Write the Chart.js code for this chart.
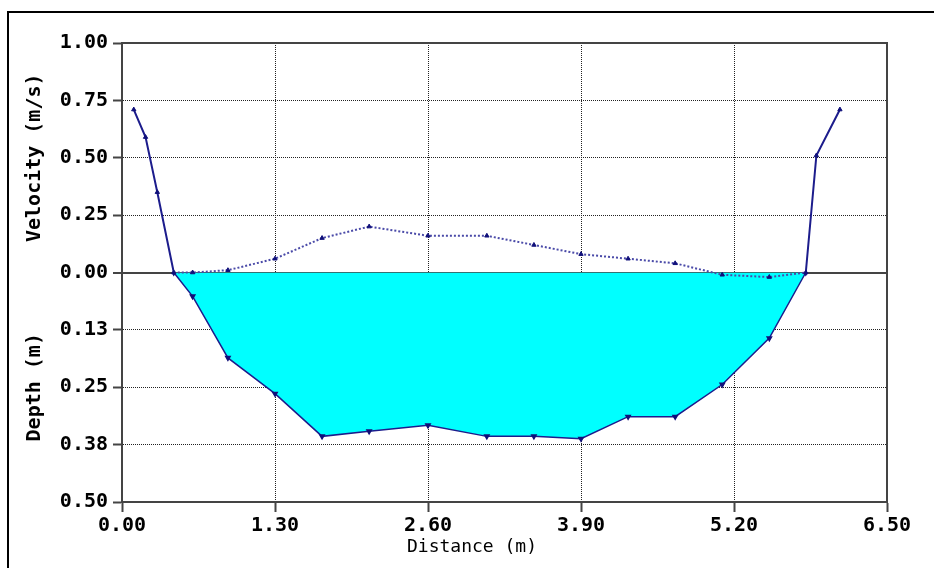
<!DOCTYPE html>
<html>
<head>
<meta charset="utf-8">
<script src="https://cdn.jsdelivr.net/npm/chart.js@4"></script>
<style>
  html, body { margin: 0; padding: 0; background: #fff; overflow: hidden; }
  #wrap { position: relative; width: 934px; height: 568px; }
  #frame {
    position: absolute; left: 7px; top: 11px; width: 960px; height: 600px;
    border-left: 2px solid #000; border-top: 2px solid #000; pointer-events: none;
  }
  canvas { position: absolute; left: 0; top: 0; }
</style>
</head>
<body>
<div id="wrap">
  <canvas id="section" width="934" height="568"></canvas>
  <div id="frame"></div>
</div>
<script>
// stations across the channel (m)
const velocityStations = [0.10, 0.20, 0.30, 0.44, 0.60, 0.90, 1.30, 1.70, 2.10, 2.60, 3.10, 3.50, 3.90, 4.30, 4.70, 5.10, 5.50, 5.81, 5.90, 6.10];
const velocity = [0.71, 0.59, 0.35, 0.00, 0.00, 0.01, 0.06, 0.15, 0.20, 0.16, 0.16, 0.12, 0.08, 0.06, 0.04, -0.01, -0.02, 0.00, 0.51, 0.71];

const depthStations = [0.44, 0.60, 0.90, 1.30, 1.70, 2.10, 2.60, 3.10, 3.50, 3.90, 4.30, 4.70, 5.10, 5.50, 5.81];
const depth = [0.000, 0.052, 0.186, 0.264, 0.357, 0.346, 0.333, 0.357, 0.357, 0.362, 0.314, 0.314, 0.244, 0.143, 0.000];

const distanceTicks = [0, 1.30, 2.60, 3.90, 5.20, 6.50];
const velocityTicks = [0, 0.25, 0.50, 0.75, 1.00];
const depthTicks = [0.125, 0.25, 0.375, 0.50];

const mono = "'DejaVu Sans Mono', 'Liberation Mono', monospace";
const axisColor = '#444';
const gridColor = '#222';
const dotted = [1, 1];

// bank segments are drawn solid, the measured profile dotted
const bankSegment = i => i < 3 || i >= velocity.length - 3;

const plotFrame = {
  id: 'plotFrame',
  afterDraw(chart) {
    const { ctx, chartArea: a } = chart;
    ctx.save();
    ctx.strokeStyle = axisColor;
    ctx.lineWidth = 2;
    ctx.beginPath();
    ctx.moveTo(a.left, a.top);
    ctx.lineTo(a.right, a.top);
    ctx.lineTo(a.right, a.bottom);
    ctx.stroke();
    ctx.restore();
  }
};

new Chart(document.getElementById('section'), {
  type: 'line',
  data: {
    datasets: [
      {
        label: 'Velocity',
        data: velocityStations.map((x, i) => ({ x, y: velocity[i] })),
        yAxisID: 'yVel',
        order: 1,
        clip: false,
        borderColor: '#1c1c8c',
        borderWidth: 2,
        pointStyle: 'triangle',
        pointRadius: 2.5,
        pointBackgroundColor: '#10107a',
        pointBorderColor: '#10107a',
        pointBorderWidth: 1,
        tension: 0,
        fill: false,
        segment: {
          borderDash: c => bankSegment(c.p0DataIndex) ? undefined : [2, 2],
          borderColor: c => bankSegment(c.p0DataIndex) ? undefined : '#4a4aa8'
        }
      },
      {
        label: 'Depth',
        data: depthStations.map((x, i) => ({ x, y: depth[i] })),
        yAxisID: 'yDep',
        order: 2,
        borderColor: '#1c1c8c',
        borderWidth: 1.5,
        backgroundColor: '#00ffff',
        fill: 'origin',
        pointStyle: 'triangle',
        pointRotation: 180,
        pointRadius: 2.5,
        pointBackgroundColor: '#10107a',
        pointBorderColor: '#10107a',
        tension: 0
      }
    ]
  },
  options: {
    responsive: false,
    animation: false,
    devicePixelRatio: 1,
    layout: { padding: { left: 10, right: 47, top: 43, bottom: 0 } },
    plugins: { legend: { display: false }, tooltip: { enabled: false } },
    scales: {
      x: {
        type: 'linear',
        min: 0,
        max: 6.5,
        z: 1,
        afterBuildTicks: s => { s.ticks = distanceTicks.map(value => ({ value })); },
        afterFit: s => { s.height = 66; },
        ticks: {
          autoSkip: false,
          maxRotation: 0,
          padding: 2,
          color: '#000',
          font: { family: mono, size: 20, weight: 'bold' },
          callback: v => v.toFixed(2)
        },
        grid: { color: gridColor, lineWidth: 1, tickLength: 10, tickColor: axisColor, tickWidth: 2 },
        border: { color: axisColor, width: 2, dash: dotted },
        title: {
          display: true,
          text: 'Distance (m)      ',
          color: '#000',
          font: { family: mono, size: 18 },
          padding: { top: 0, bottom: 10 }
        }
      },
      // the lower half of the stack: depth grows downward from the water surface
      yDep: {
        type: 'linear',
        position: 'left',
        stack: 'section',
        stackWeight: 1,
        reverse: true,
        min: 0,
        max: 0.5,
        z: 1,
        afterBuildTicks: s => { s.ticks = depthTicks.map(value => ({ value })); },
        afterFit: s => { s.width = 112; },
        ticks: {
          autoSkip: false,
          padding: 5,
          color: '#000',
          font: { family: mono, size: 20, weight: 'bold' },
          callback: v => v.toFixed(2)
        },
        grid: { color: gridColor, lineWidth: 1, tickLength: 9, tickColor: axisColor, tickWidth: 2 },
        border: { color: axisColor, width: 2, dash: dotted },
        title: {
          display: true,
          text: 'Depth (m)',
          color: '#000',
          font: { family: mono, size: 20, weight: 'bold' },
          padding: { top: 13, bottom: 0 }
        }
      },
      yVel: {
        type: 'linear',
        position: 'left',
        stack: 'section',
        stackWeight: 1,
        min: 0,
        max: 1,
        z: 1,
        afterBuildTicks: s => { s.ticks = velocityTicks.map(value => ({ value })); },
        afterFit: s => { s.width = 112; },
        ticks: {
          autoSkip: false,
          padding: 5,
          color: '#000',
          font: { family: mono, size: 20, weight: 'bold' },
          callback: v => v.toFixed(2)
        },
        grid: {
          color: c => c.tick && c.tick.value === 0 ? axisColor : gridColor,
          lineWidth: c => c.tick && c.tick.value === 0 ? 2 : 1,
          tickLength: 9,
          tickColor: axisColor,
          tickWidth: 2
        },
        border: { color: axisColor, width: 2, dash: c => c.tick && c.tick.value === 0 ? [] : dotted },
        title: {
          display: true,
          text: 'Velocity (m/s)',
          color: '#000',
          font: { family: mono, size: 20, weight: 'bold' },
          padding: { top: 13, bottom: 0 }
        }
      }
    }
  },
  plugins: [plotFrame]
});
</script>
</body>
</html>
